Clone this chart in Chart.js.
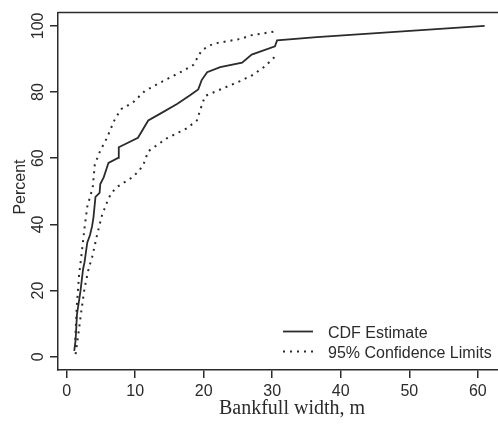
<!DOCTYPE html>
<html>
<head>
<meta charset="utf-8">
<script src="https://cdn.jsdelivr.net/npm/chart.js@4"></script>
<style>
  html, body { margin: 0; padding: 0; background: #fff; overflow: hidden; }
</style>
</head>
<body>
<canvas id="chart" width="498" height="426"></canvas>
<script>
// CDF estimate of bankfull width (m vs percent)
const cdfX = [1.1, 1.3, 1.5, 2.0, 2.4, 2.6, 3.0, 3.4, 3.7, 3.9, 4.2, 4.8, 4.9, 5.4, 6.1, 7.5, 7.6, 10.4, 11.9, 13.6, 16.1, 18.0, 19.2, 19.7, 20.5, 22.4, 25.6, 27.0, 30.4, 30.7, 36.5, 61.0];
const cdfY = [1.8, 5.0, 12.8, 19.7, 26.6, 28.5, 34.5, 36.8, 39.4, 42.0, 48.3, 49.5, 52.2, 54.2, 58.6, 60.1, 63.3, 66.2, 71.4, 73.4, 76.4, 79.0, 80.8, 83.6, 86.0, 87.5, 88.9, 91.3, 93.8, 95.6, 96.6, 100];

// upper 95% confidence limit
const upperX = [1.2, 1.46, 1.8, 2.2, 2.57, 3.0, 3.8, 4.1, 4.86, 5.84, 7.05, 8.0, 9.7, 11.4, 13.6, 16.8, 18.5, 19.7, 21.4, 25.5, 26.8, 30.4];
const upperY = [3.0, 14.8, 24.6, 31.5, 38.4, 45.3, 51.2, 58.1, 62.1, 66.0, 71.9, 74.9, 76.9, 80.3, 82.8, 86.2, 88.2, 92.6, 94.6, 96.1, 97.1, 98.3];

// lower 95% confidence limit
const lowerX = [1.3, 1.7, 2.2, 2.6, 3.2, 3.7, 4.4, 5.1, 5.8, 6.5, 7.5, 9.4, 10.5, 11.2, 11.9, 14.6, 17.5, 19.0, 19.7, 20.2, 21.9, 25.3, 27.2, 28.9, 30.4];
const lowerY = [0.8, 6.9, 14.8, 20.7, 26.6, 30.0, 36.5, 42.4, 46.3, 49.5, 51.5, 54.0, 56.0, 58.1, 62.1, 66.0, 69.0, 71.4, 75.9, 78.8, 80.3, 83.3, 85.2, 87.7, 90.7];

const xTicks = [0, 10, 20, 30, 40, 50, 60];
const yTicks = [0, 20, 40, 60, 80, 100];
const legendLabels = ['CDF Estimate', '95% Confidence Limits'];

const ink = '#2b2b2b';
const sans = '"Liberation Sans", Arial, sans-serif';

function toPoints(xs, ys) {
    return xs.map((x, i) => ({ x: x, y: ys[i] }));
}

// extra drawing: top frame line, rotated y labels, titles, legend
const decor = {
    id: 'decor',
    afterDraw(chart) {
        const ctx = chart.ctx;
        const area = chart.chartArea;
        const yScale = chart.scales.y;
        ctx.save();
        ctx.strokeStyle = ink;
        ctx.lineWidth = 1.5;
        ctx.beginPath();
        ctx.moveTo(area.left, area.top);
        ctx.lineTo(area.right, area.top);
        ctx.stroke();

        ctx.fillStyle = ink;
        ctx.font = '16px ' + sans;
        ctx.textAlign = 'center';
        ctx.textBaseline = 'alphabetic';
        yTicks.forEach(v => {
            ctx.save();
            ctx.translate(43, yScale.getPixelForValue(v));
            ctx.rotate(-Math.PI / 2);
            ctx.fillText(String(v), 0, 0);
            ctx.restore();
        });

        // y title
        ctx.save();
        ctx.translate(25, 187);
        ctx.rotate(-Math.PI / 2);
        ctx.fillText('Percent', 0, 0);
        ctx.restore();

        // x title
        ctx.font = '20px "Liberation Serif", "Times New Roman", serif';
        ctx.fillText('Bankfull width, m', 292, 413.5);

        // legend
        ctx.font = '16px ' + sans;
        ctx.textAlign = 'left';
        ctx.lineWidth = 1.8;
        ctx.beginPath();
        ctx.moveTo(283, 331.5);
        ctx.lineTo(313, 331.5);
        ctx.stroke();
        ctx.setLineDash([2, 5]);
        ctx.beginPath();
        ctx.moveTo(283, 351.5);
        ctx.lineTo(313, 351.5);
        ctx.stroke();
        ctx.setLineDash([]);
        ctx.fillText(legendLabels[0], 328, 338);
        ctx.fillText(legendLabels[1], 328, 357.5);
        ctx.restore();
    }
};

new Chart(document.getElementById('chart'), {
    type: 'scatter',
    data: {
        datasets: [
            {
                label: legendLabels[0],
                data: toPoints(cdfX, cdfY),
                showLine: true,
                borderColor: ink,
                borderWidth: 1.8,
                pointRadius: 0,
                tension: 0
            },
            {
                label: legendLabels[1],
                data: toPoints(upperX, upperY),
                showLine: true,
                borderColor: ink,
                borderWidth: 2,
                borderDash: [2, 5],
                pointRadius: 0,
                tension: 0
            },
            {
                label: legendLabels[1],
                data: toPoints(lowerX, lowerY),
                showLine: true,
                borderColor: ink,
                borderWidth: 2,
                borderDash: [2, 5],
                pointRadius: 0,
                tension: 0
            }
        ]
    },
    options: {
        responsive: false,
        animation: false,
        devicePixelRatio: 1,
        layout: { padding: { top: 5, left: 0, right: 0, bottom: 0 } },
        plugins: {
            legend: { display: false },
            tooltip: { enabled: false }
        },
        scales: {
            x: {
                type: 'linear',
                min: -1.27,
                max: 62.95,
                afterFit: scale => { scale.height = 56; },
                afterBuildTicks: scale => { scale.ticks = xTicks.map(v => ({ value: v })); },
                grid: { drawOnChartArea: false, drawTicks: true, tickLength: 8, color: ink, lineWidth: 1.5 },
                border: { display: true, color: ink, width: 1.5 },
                ticks: { includeBounds: false, autoSkip: false, maxRotation: 0, padding: 4, color: ink, font: { family: sans, size: 16 } }
            },
            y: {
                type: 'linear',
                min: -4,
                max: 104,
                afterFit: scale => { scale.width = 58; },
                afterBuildTicks: scale => { scale.ticks = yTicks.map(v => ({ value: v })); },
                grid: { drawOnChartArea: false, drawTicks: true, tickLength: 8, color: ink, lineWidth: 1.5 },
                border: { display: true, color: ink, width: 1.5 },
                ticks: { includeBounds: false, autoSkip: false, color: 'rgba(0,0,0,0)', font: { family: sans, size: 16 } }
            }
        }
    },
    plugins: [decor]
});
</script>
</body>
</html>
